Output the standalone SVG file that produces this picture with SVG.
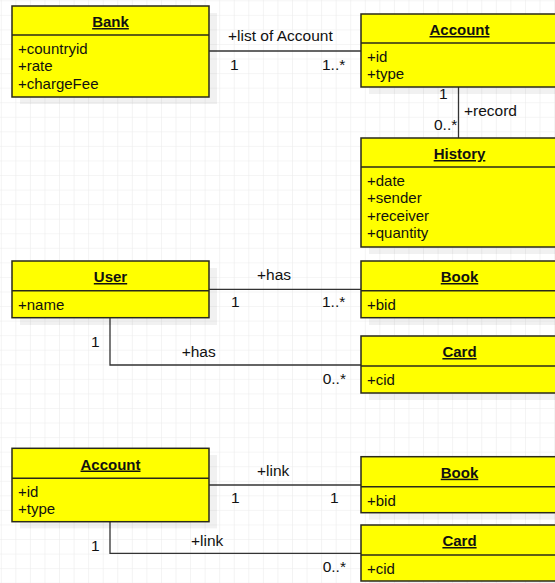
<svg xmlns="http://www.w3.org/2000/svg" width="555" height="583" viewBox="0 0 555 583">
<defs>
<pattern id="grid" x="0.8" y="0.3" width="14.56" height="14.56" patternUnits="userSpaceOnUse">
<path d="M0 0 V14.56 M0 0 H14.56" fill="none" stroke="#ececec" stroke-width="1.2"/>
</pattern>
</defs>
<style>
.box{fill:#ffff00;stroke:#2a2a1a;stroke-width:1.5}
.shadow{fill:#000;opacity:0.055}
.div{stroke:#2a2a1a;stroke-width:1.5}
.t{font-family:"Liberation Sans",Arial,sans-serif;font-size:15px;fill:#111}
.l{font-family:"Liberation Sans",Arial,sans-serif;font-size:15.5px;fill:#111}
.h{font-family:"Liberation Sans",Arial,sans-serif;font-size:15px;font-weight:bold;text-decoration:underline;fill:#111;text-anchor:middle}
.c{fill:none;stroke:#333;stroke-width:1.3}
</style>
<rect width="555" height="583" fill="#fff"/>
<rect width="555" height="583" fill="url(#grid)"/>

<g id="connectors">
<path class="c" d="M209 51 H361"/>
<path class="c" d="M458.5 87 V138"/>
<path class="c" d="M209 289.3 H361"/>
<path class="c" d="M110 317.7 V365 H361"/>
<path class="c" d="M209 485 H361"/>
<path class="c" d="M110 521.7 V553.3 H361"/>
<text class="l" x="228" y="41">+list of Account</text>
<text class="l" x="230" y="70">1</text>
<text class="l" x="322" y="70">1..*</text>
<text class="l" x="439" y="99">1</text>
<text class="l" x="464" y="115.7">+record</text>
<text class="l" x="434" y="130">0..*</text>
<text class="l" x="257" y="280">+has</text>
<text class="l" x="231" y="307.3">1</text>
<text class="l" x="322" y="307.3">1..*</text>
<text class="l" x="91" y="346.7">1</text>
<text class="l" x="181.7" y="357.3">+has</text>
<text class="l" x="322.7" y="384">0..*</text>
<text class="l" x="257" y="476">+link</text>
<text class="l" x="231" y="503.3">1</text>
<text class="l" x="330" y="503.3">1</text>
<text class="l" x="91" y="551">1</text>
<text class="l" x="191" y="545.7">+link</text>
<text class="l" x="322.7" y="572.3">0..*</text>
</g>

<g id="bank">
<rect class="shadow" x="20" y="13" width="197" height="91"/>
<rect class="box" x="12" y="6" width="197" height="91"/>
<line class="div" x1="12" y1="35" x2="209" y2="35"/>
<text class="h" x="110.5" y="27">Bank</text>
<text class="t" x="18" y="54">+countryid</text>
<text class="t" x="18" y="71.3">+rate</text>
<text class="t" x="18" y="88.6">+chargeFee</text>
</g>

<g id="account1">
<rect class="shadow" x="369" y="21" width="197" height="73"/>
<rect class="box" x="361" y="14" width="197" height="73"/>
<line class="div" x1="361" y1="43" x2="558" y2="43"/>
<text class="h" x="459.5" y="35">Account</text>
<text class="t" x="367" y="62">+id</text>
<text class="t" x="367" y="79.3">+type</text>
</g>

<g id="history">
<rect class="shadow" x="369" y="145" width="197" height="109"/>
<rect class="box" x="361" y="138" width="197" height="109"/>
<line class="div" x1="361" y1="167" x2="558" y2="167"/>
<text class="h" x="459.5" y="159">History</text>
<text class="t" x="367" y="186">+date</text>
<text class="t" x="367" y="203.4">+sender</text>
<text class="t" x="367" y="220.8">+receiver</text>
<text class="t" x="367" y="238.2">+quantity</text>
</g>

<g id="user">
<rect class="shadow" x="20" y="268" width="197" height="57"/>
<rect class="box" x="12" y="261" width="197" height="56.7"/>
<line class="div" x1="12" y1="290.7" x2="209" y2="290.7"/>
<text class="h" x="110.5" y="282">User</text>
<text class="t" x="18" y="310">+name</text>
</g>

<g id="book1">
<rect class="shadow" x="369" y="268" width="197" height="57"/>
<rect class="box" x="361" y="261" width="197" height="56.7"/>
<line class="div" x1="361" y1="290.7" x2="558" y2="290.7"/>
<text class="h" x="459.5" y="282">Book</text>
<text class="t" x="367" y="310">+bid</text>
</g>

<g id="card1">
<rect class="shadow" x="369" y="343" width="197" height="57"/>
<rect class="box" x="361" y="336" width="197" height="57"/>
<line class="div" x1="361" y1="366" x2="558" y2="366"/>
<text class="h" x="459.5" y="357">Card</text>
<text class="t" x="367" y="385">+cid</text>
</g>

<g id="account2">
<rect class="shadow" x="20" y="455" width="197" height="73.4"/>
<rect class="box" x="12" y="448.3" width="197" height="73.4"/>
<line class="div" x1="12" y1="478.3" x2="209" y2="478.3"/>
<text class="h" x="110.5" y="469.5">Account</text>
<text class="t" x="18" y="497">+id</text>
<text class="t" x="18" y="514.4">+type</text>
</g>

<g id="book2">
<rect class="shadow" x="369" y="463.7" width="197" height="56"/>
<rect class="box" x="361" y="456.7" width="197" height="56"/>
<line class="div" x1="361" y1="486.7" x2="558" y2="486.7"/>
<text class="h" x="459.5" y="477.7">Book</text>
<text class="t" x="367" y="505.7">+bid</text>
</g>

<g id="card2">
<rect class="shadow" x="369" y="532" width="197" height="56"/>
<rect class="box" x="361" y="525" width="197" height="56"/>
<line class="div" x1="361" y1="555" x2="558" y2="555"/>
<text class="h" x="459.5" y="546">Card</text>
<text class="t" x="367" y="574">+cid</text>
</g>
</svg>
